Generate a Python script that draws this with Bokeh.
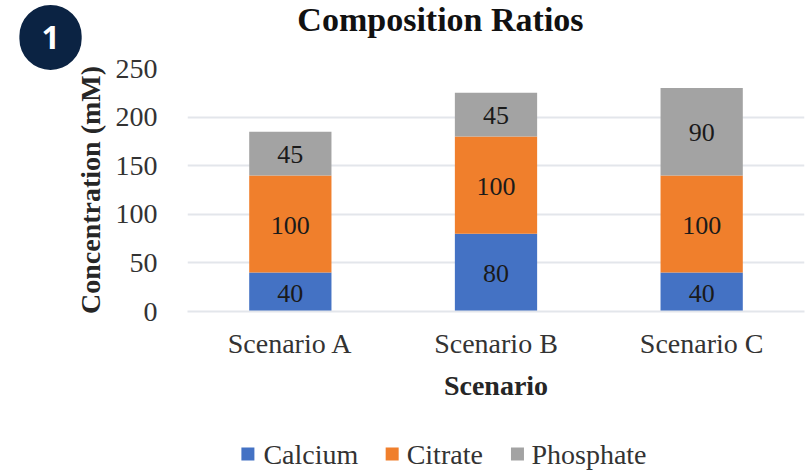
from bokeh.plotting import figure
from bokeh.layouts import column
from bokeh.models import (FactorRange, Range1d, ColumnDataSource, Label,
                          LabelSet, SingleIntervalTicker)
from bokeh.core.properties import value
from bokeh.embed import file_html
from bokeh.resources import INLINE

scenarios = ["Scenario A", "Scenario B", "Scenario C"]
series = ["Calcium", "Citrate", "Phosphate"]
calcium = [40, 80, 40]
citrate = [100, 100, 100]
phosphate = [45, 45, 90]
colors = ["#4472C4", "#F07F2C", "#A3A3A3"]
badge_text = "1"
title_text = "Composition Ratios"

SERIF = "Liberation Serif"
MAIN_H = 430
LEG_H = 470 - MAIN_H

src = ColumnDataSource(dict(x=scenarios, Calcium=calcium, Citrate=citrate, Phosphate=phosphate))

p = figure(width=807, height=MAIN_H, x_range=FactorRange(*scenarios), y_range=Range1d(0, 250),
           output_backend="svg", toolbar_location=None,
           min_border_left=187, min_border_right=3, min_border_top=68,
           min_border_bottom=MAIN_H - 311)
p.title.visible = False
p.outline_line_color = None
p.background_fill_color = "white"
p.border_fill_color = "white"

rs = p.vbar_stack(series, x="x", width=0.4, source=src, color=colors, line_color=None)

# segment labels
lab_x, lab_y, lab_t = [], [], []
for i, s in enumerate(scenarios):
    base = 0
    for vals in (calcium, citrate, phosphate):
        v = vals[i]
        lab_x.append(s)
        lab_y.append(base + v / 2)
        lab_t.append(str(v))
        base += v
lsrc = ColumnDataSource(dict(x=lab_x, y=lab_y, t=lab_t))
p.add_layout(LabelSet(x="x", y="y", text="t", source=lsrc, text_align="center",
                      text_baseline="middle", text_font=SERIF, text_font_size="26px",
                      text_color="#1a1a1a", y_offset=-1))

# axes
p.yaxis.ticker = SingleIntervalTicker(interval=50)
p.yaxis.axis_line_color = None
p.yaxis.major_tick_line_color = None
p.yaxis.minor_tick_line_color = None
p.yaxis.major_tick_out = 0
p.yaxis.major_tick_in = 0
p.yaxis.major_label_standoff = 26
p.yaxis.major_label_text_font = SERIF
p.yaxis.major_label_text_font_size = "28px"
p.yaxis.major_label_text_color = "#333333"
p.yaxis.axis_label = "Concentration (mM)"
p.yaxis.axis_label_text_font = SERIF
p.yaxis.axis_label_text_font_style = "bold"
p.yaxis.axis_label_text_font_size = "28px"
p.yaxis.axis_label_text_color = "#262626"
p.yaxis.axis_label_standoff = 7

p.xaxis.axis_line_color = "#e3e6eb"
p.xaxis.axis_line_width = 2
p.xaxis.major_tick_line_color = None
p.xaxis.minor_tick_line_color = None
p.xaxis.major_tick_out = 0
p.xaxis.major_tick_in = 0
p.xaxis.major_label_standoff = 16
p.xaxis.major_label_text_font = SERIF
p.xaxis.major_label_text_font_size = "28px"
p.xaxis.major_label_text_color = "#333333"
p.xaxis.axis_label = "Scenario"
p.xaxis.axis_label_text_font = SERIF
p.xaxis.axis_label_text_font_style = "bold"
p.xaxis.axis_label_text_font_size = "28px"
p.xaxis.axis_label_text_color = "#262626"
p.xaxis.axis_label_standoff = 8

p.xgrid.grid_line_color = None
p.ygrid.grid_line_color = "#e3e6eb"
p.ygrid.grid_line_width = 2

# title, in the top side panel (side-panel annotations are not clipped to the frame)
p.add_layout(Label(x=1.230, y=300.9, x_units="data", y_units="data", text=title_text,
                   text_align="center", text_baseline="middle", text_font=SERIF,
                   text_font_style="bold", text_font_size="34px", text_color="#111111"), "above")

# badge, in the left side panel
p.add_layout(Label(x=-0.666, y=282, x_units="data", y_units="data", text=badge_text,
                   text_align="center", text_baseline="middle", text_font="Open Sans",
                   text_font_style="bold", text_font_size="32px", text_color="white",
                   background_fill_color="#0b2343", border_radius=32, padding=(22, 21)), "left")

# legend strip below the chart; its frame lines up with the chart frame (x 187..805)
leg = figure(width=807, height=LEG_H, x_range=Range1d(187, 805), y_range=Range1d(LEG_H, 0),
             output_backend="svg", toolbar_location=None, x_axis_type=None, y_axis_type=None,
             min_border_left=0, min_border_right=0, min_border_top=0, min_border_bottom=0)
leg.title.visible = False
leg.outline_line_color = None
leg.background_fill_color = "white"
leg.border_fill_color = "white"
swatch_x = [247.5, 392, 517.5]
label_x = [263, 406.5, 531.5]
leg_src = ColumnDataSource(dict(sx=swatch_x, lx=label_x, name=series, color=colors,
                                yy=[23.5] * 3))
leg.scatter(x="sx", y="yy", marker="square", size=13, fill_color="color", line_color=None,
            source=leg_src)
leg.text(x="lx", y="yy", text="name", source=leg_src, text_font=value(SERIF),
         text_font_size="28px", text_baseline="middle", text_color="#333333")

open("out.html", "w").write(file_html(column(p, leg, spacing=0), INLINE))
